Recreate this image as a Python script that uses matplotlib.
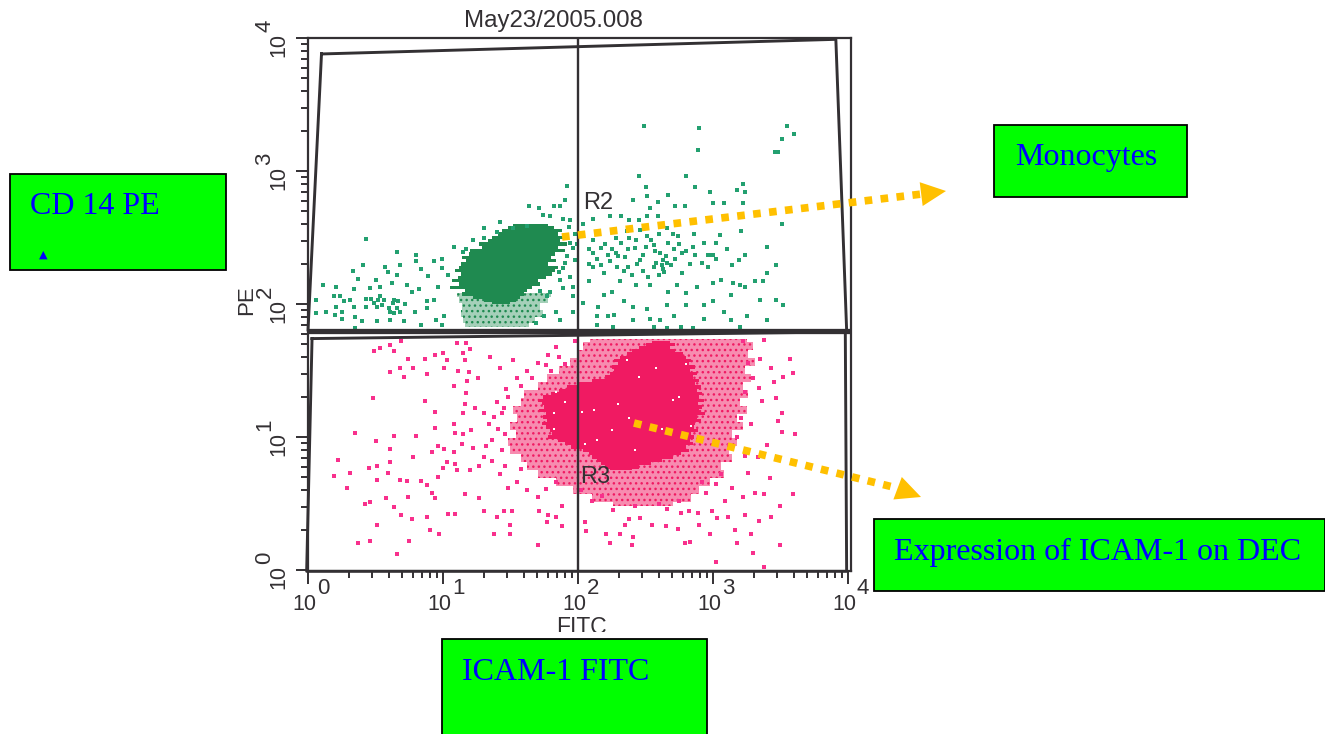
import matplotlib
matplotlib.use("Agg")
import matplotlib.pyplot as plt
import numpy as np
from matplotlib.patches import Polygon, Rectangle
from matplotlib.ticker import LogLocator, NullFormatter

W, H = 1325, 734

# all event values are log10(FITC), log10(PE)
green_core_y = [2.60, 2.575, 2.55, 2.525, 2.50, 2.475, 2.45, 2.425, 2.40, 2.375, 2.35, 2.325,
                2.30, 2.275, 2.25, 2.225, 2.20, 2.175, 2.15, 2.125, 2.10, 2.075, 2.05, 2.025, 2.00]
green_core_l = [1.52, 1.48, 1.44, 1.41, 1.36, 1.33, 1.27, 1.29, 1.20, 1.19, 1.14, 1.17,
                1.13, 1.12, 1.09, 1.13, 1.11, 1.07, 1.12, 1.05, 1.16, 1.14, 1.22, 1.30, 1.36]
green_core_r = [1.78, 1.82, 1.88, 1.85, 1.90, 1.87, 1.92, 1.85, 1.90, 1.83, 1.80, 1.84,
                1.78, 1.85, 1.83, 1.81, 1.76, 1.70, 1.72, 1.66, 1.62, 1.60, 1.57, 1.54, 1.50]

green_halo_y = [2.08, 2.03, 1.98, 1.93, 1.88, 1.83]
green_halo_l = [1.10, 1.12, 1.14, 1.13, 1.15, 1.16]
green_halo_r = [1.80, 1.78, 1.72, 1.74, 1.68, 1.64]

green_points = [
    (2.49, 3.34), (2.90, 3.32), (3.55, 3.34), (3.51, 3.24), (3.60, 3.28), (2.89, 3.16), (3.46, 3.14), (3.48, 3.14),
    (2.45, 2.96), (2.80, 2.96), (3.22, 2.90), (2.87, 2.88), (2.50, 2.88), (2.98, 2.84), (3.18, 2.86), (3.24, 2.84),
    (3.22, 2.76), (1.92, 2.89), (0.43, 2.49), (0.66, 2.39),
    (0.11, 2.14), (0.21, 2.13), (0.06, 2.03), (0.19, 2.06), (0.24, 2.06), (0.27, 2.02), (0.31, 2.03), (0.21, 1.98),
    (0.25, 1.94), (0.06, 1.93), (0.13, 1.94), (0.20, 1.92), (0.25, 1.89), (0.34, 1.98), (0.35, 1.90), (0.40, 1.87),
    (0.43, 2.04), (0.47, 2.04), (0.53, 2.06), (0.56, 2.03), (0.64, 2.03), (0.67, 2.02), (0.61, 1.94), (0.64, 1.93),
    (0.68, 1.94), (0.43, 1.98), (0.51, 1.98), (0.55, 1.99), (0.46, 2.12), (0.34, 2.11), (0.37, 2.19), (0.33, 2.25),
    (0.41, 2.29), (0.50, 2.18), (0.57, 2.28), (0.59, 2.24), (0.68, 2.29), (0.66, 2.22), (0.53, 2.13), (0.62, 2.16),
    (0.73, 2.14), (0.77, 2.09), (0.82, 2.11), (0.80, 2.37), (0.80, 2.32), (0.84, 2.26), (0.89, 2.21), (0.93, 2.32),
    (0.99, 2.34), (0.99, 2.27), (1.04, 2.22), (1.08, 2.43), (1.15, 2.39), (0.96, 2.13), (0.93, 2.03), (0.88, 2.02),
    (0.79, 1.94), (0.88, 1.97), (0.95, 1.88), (1.01, 1.91), (0.99, 1.84), (0.84, 1.84), (0.71, 1.87), (0.61, 1.88),
    (0.51, 1.87), (0.35, 1.82), (0.49, 2.01), (0.52, 2.03), (0.60, 1.97), (0.63, 2.01), (0.66, 1.97), (0.72, 2.00),
    (1.64, 2.74), (1.71, 2.72), (1.82, 2.74), (1.87, 2.74), (1.90, 2.78), (1.74, 2.67), (1.79, 2.66), (1.89, 2.64),
    (1.94, 2.63), (1.42, 2.62), (1.30, 2.57), (1.40, 2.54), (1.52, 2.57), (1.62, 2.59), (1.22, 2.48), (1.30, 2.50),
    (1.17, 2.41), (1.98, 2.53), (1.94, 2.46), (1.92, 2.36), (1.98, 2.33), (1.89, 2.27), (1.87, 2.18), (1.89, 2.12),
    (1.96, 2.13), (1.96, 2.06), (1.77, 2.06), (1.79, 2.09), (1.72, 2.10), (1.84, 1.94), (1.87, 1.88), (1.75, 1.91),
    (1.96, 1.94), (1.69, 1.86), (1.93, 2.58), (1.96, 2.42), (1.90, 2.31), (1.86, 2.24), (1.94, 2.20), (1.99, 2.45),
    (2.04, 2.60), (2.11, 2.64), (2.24, 2.66), (2.32, 2.66), (2.38, 2.63), (2.45, 2.63), (2.51, 2.66), (2.59, 2.66),
    (2.53, 2.72), (2.59, 2.77), (2.72, 2.74), (2.79, 2.74), (3.00, 2.76), (3.08, 2.76), (2.67, 2.82), (2.51, 2.81),
    (2.41, 2.78), (2.11, 2.48), (2.11, 2.38), (2.08, 2.41), (2.17, 2.42), (2.25, 2.41), (2.32, 2.46), (2.37, 2.41),
    (2.43, 2.48), (2.51, 2.51), (2.56, 2.44), (2.61, 2.38), (2.67, 2.46), (2.74, 2.51), (2.71, 2.41), (2.77, 2.38),
    (2.85, 2.43), (2.93, 2.46), (2.87, 2.37), (2.96, 2.37), (3.00, 2.37), (3.05, 2.52), (3.10, 2.41), (3.24, 2.37),
    (3.21, 2.55), (3.51, 2.60), (3.40, 2.43), (3.14, 2.29), (3.19, 2.33), (3.47, 2.29), (3.40, 2.23), (2.96, 2.28),
    (2.77, 2.23), (2.63, 2.33), (2.63, 2.26), (2.56, 2.28), (2.46, 2.33), (2.37, 2.28), (2.29, 2.28), (2.24, 2.32),
    (2.17, 2.29), (2.11, 2.28), (2.19, 2.23), (2.31, 2.17), (2.43, 2.14), (2.53, 2.14), (2.73, 2.14), (2.88, 2.13),
    (3.00, 2.16), (3.06, 2.18), (3.15, 2.16), (3.20, 2.14), (3.31, 2.17), (3.37, 2.17), (3.24, 2.13), (3.35, 2.03),
    (3.47, 2.03), (3.52, 1.99), (3.40, 1.88), (3.25, 1.91), (3.13, 2.07), (3.00, 2.02), (2.93, 1.99), (2.80, 2.08),
    (2.80, 1.99), (2.67, 2.09), (2.66, 1.99), (2.51, 1.96), (2.41, 1.98), (2.34, 2.02), (2.25, 2.09), (2.19, 2.07),
    (2.15, 1.98), (2.04, 2.01), (2.08, 2.17), (2.14, 1.91), (2.22, 1.91), (2.27, 1.92), (2.14, 1.84), (2.26, 1.83),
    (2.41, 1.88), (2.53, 1.89), (2.61, 1.88), (2.71, 1.91), (2.76, 1.83), (2.85, 1.82), (2.93, 1.89), (3.08, 1.94),
    (3.13, 1.88), (3.20, 1.83), (2.56, 1.83), (2.66, 1.82),
    (2.20, 2.45), (2.28, 2.38), (2.35, 2.35), (2.42, 2.42), (2.48, 2.37), (2.54, 2.48), (2.58, 2.31), (2.65, 2.36),
    (2.69, 2.29), (2.72, 2.34), (2.75, 2.45), (2.80, 2.40), (2.28, 2.50), (2.36, 2.55), (2.46, 2.56), (2.60, 2.53),
    (2.66, 2.57), (2.70, 2.53), (2.86, 2.53), (2.40, 2.22), (2.48, 2.25), (2.52, 2.20), (2.60, 2.22), (2.34, 2.25),
    (2.66, 2.31), (2.62, 2.29), (2.64, 2.24), (2.44, 2.30), (2.50, 2.43), (2.57, 2.40), (2.30, 2.36), (2.22, 2.37),
    (2.14, 2.34), (2.08, 2.30), (2.38, 2.50), (2.83, 2.30), (2.92, 2.31), (3.02, 2.34), (2.99, 2.37), (3.02, 2.46),
]

pink_core_y = [1.72, 1.70, 1.675, 1.65, 1.625, 1.60, 1.575, 1.55, 1.525, 1.50, 1.475, 1.45, 1.425,
               1.40, 1.375, 1.35, 1.325, 1.30, 1.275, 1.25, 1.225, 1.20, 1.175, 1.15, 1.125,
               1.10, 1.075, 1.05, 1.025, 1.00, 0.975, 0.95, 0.925, 0.90, 0.875, 0.85, 0.825, 0.80, 0.775, 0.75]
pink_core_l = [2.55, 2.50, 2.45, 2.40, 2.36, 2.31, 2.27, 2.30, 2.25, 2.27, 2.24, 2.20, 2.10,
               2.00, 1.92, 1.86, 1.80, 1.74, 1.70, 1.73, 1.75, 1.71, 1.76, 1.74, 1.77,
               1.73, 1.76, 1.79, 1.81, 1.78, 1.85, 1.90, 1.95, 2.04, 2.08, 2.10, 2.14, 2.17, 2.20, 2.24]
pink_core_r = [2.68, 2.72, 2.68, 2.72, 2.78, 2.80, 2.84, 2.82, 2.87, 2.83, 2.88, 2.85, 2.90,
               2.87, 2.91, 2.88, 2.92, 2.90, 2.93, 2.89, 2.92, 2.90, 2.94, 2.88, 2.91,
               2.87, 2.86, 2.89, 2.84, 2.86, 2.83, 2.85, 2.80, 2.82, 2.76, 2.70, 2.62, 2.54, 2.45, 2.40]

pink_halo_y = [1.74, 1.68, 1.62, 1.56, 1.50, 1.44, 1.38, 1.32, 1.26, 1.20, 1.14, 1.08, 1.02, 0.96,
               0.90, 0.84, 0.78, 0.72, 0.66, 0.60, 0.54, 0.48]
pink_halo_l = [2.09, 2.04, 2.00, 1.94, 1.86, 1.77, 1.70, 1.60, 1.58, 1.52, 1.55, 1.50, 1.54, 1.48,
               1.50, 1.58, 1.62, 1.70, 1.84, 1.96, 2.10, 2.26]
pink_halo_r = [3.25, 3.30, 3.26, 3.31, 3.24, 3.28, 3.22, 3.26, 3.20, 3.25, 3.18, 3.22, 3.14, 3.18,
               3.12, 3.14, 3.06, 3.08, 2.98, 2.90, 2.84, 2.70]

pink_points = [
    (0.49, 1.65), (0.53, 1.67), (0.61, 1.69), (0.69, 1.72), (0.64, 1.65), (0.74, 1.59), (0.68, 1.52), (0.61, 1.49),
    (0.78, 1.52), (0.71, 1.45), (0.88, 1.47), (0.94, 1.62), (0.87, 1.59), (1.00, 1.63), (1.03, 1.58), (1.15, 1.63),
    (1.16, 1.58), (1.20, 1.66), (1.17, 1.71), (1.10, 1.71), (1.01, 1.52), (1.11, 1.50), (1.19, 1.49), (1.26, 1.44),
    (1.08, 1.38), (1.17, 1.33), (0.48, 1.29), (0.87, 1.27), (0.94, 1.19), (1.16, 1.25), (1.15, 1.18), (1.08, 1.10),
    (0.94, 1.07), (1.21, 1.05), (0.35, 1.03), (0.64, 1.01), (0.80, 1.01), (0.50, 0.97), (1.09, 1.03), (1.15, 1.02),
    (1.14, 0.95), (0.61, 0.91), (0.22, 0.83), (0.78, 0.85), (0.92, 0.89), (0.96, 0.93), (1.01, 0.91), (1.08, 0.89),
    (1.03, 0.81), (1.09, 0.80), (0.61, 0.81), (0.51, 0.78), (0.45, 0.77), (0.31, 0.73), (0.19, 0.71), (0.59, 0.73),
    (0.51, 0.68), (0.29, 0.62), (0.68, 0.68), (0.73, 0.67), (0.84, 0.67), (0.88, 0.64), (0.96, 0.70), (1.00, 0.77),
    (1.10, 0.75), (1.20, 0.75), (1.27, 0.78), (0.92, 0.58), (0.94, 0.54), (0.74, 0.55), (0.58, 0.54), (0.46, 0.51),
    (0.42, 0.50), (0.64, 0.47), (0.69, 0.41), (0.77, 0.38), (0.88, 0.40), (1.04, 0.42), (1.09, 0.42), (0.51, 0.34),
    (0.90, 0.30), (0.97, 0.27), (1.38, 0.27), (1.50, 0.27), (1.50, 0.34), (0.46, 0.22), (0.37, 0.20), (0.75, 0.22),
    (0.66, 0.12), (1.70, 0.19), (1.16, 0.57), (1.27, 0.54), (1.30, 0.44), (1.40, 0.40), (1.45, 0.44), (1.51, 0.44),
    (1.71, 0.44), (1.78, 0.41), (1.77, 0.36), (1.88, 0.48), (1.88, 0.33), (1.84, 0.40), (2.05, 0.36), (2.06, 0.29),
    (2.21, 0.27), (2.31, 0.27), (2.41, 0.25), (2.24, 0.20), (2.40, 0.19), (2.35, 0.34), (2.38, 0.38), (2.46, 0.39),
    (2.55, 0.34), (2.65, 0.33), (2.74, 0.31), (2.79, 0.20), (2.83, 0.21), (3.02, 0.06), (3.38, 0.02), (3.30, 0.13),
    (3.18, 0.20), (3.50, 0.19), (3.28, 0.27), (3.16, 0.30), (2.98, 0.27), (3.34, 0.37), (3.43, 0.40), (3.24, 0.41),
    (3.11, 0.40), (3.03, 0.39), (2.90, 0.34), (2.76, 0.43), (2.82, 0.44), (2.89, 0.43), (2.99, 0.44), (3.09, 0.52),
    (3.22, 0.55), (3.31, 0.58), (3.38, 0.57), (3.59, 0.57), (3.50, 0.48), (3.42, 0.69), (3.26, 0.73), (3.33, 0.85),
    (3.40, 0.94), (3.61, 1.02), (3.51, 1.04), (3.48, 1.12), (3.51, 1.18), (3.36, 1.27), (3.47, 1.29), (3.34, 1.37),
    (3.45, 1.41), (3.52, 1.45), (3.59, 1.48), (3.43, 1.52), (3.57, 1.59), (3.35, 1.59), (3.38, 1.73),
    (1.34, 1.10), (1.38, 1.15), (1.41, 1.06), (1.36, 0.98), (1.32, 0.93), (1.30, 0.85), (1.36, 0.82), (1.44, 0.90),
    (1.42, 0.72), (1.48, 0.62), (1.55, 0.66), (1.62, 0.60), (1.70, 0.55), (1.76, 0.61), (1.40, 1.26), (1.45, 1.22),
    (1.47, 1.36), (1.55, 1.44), (1.62, 1.50), (1.70, 1.56), (1.78, 1.62), (1.84, 1.68), (1.98, 1.72), (1.90, 1.55),
    (1.80, 1.50), (1.52, 1.58), (1.42, 1.52), (1.35, 1.60), (1.18, 1.42), (1.24, 1.22), (1.30, 1.18), (1.22, 0.92),
    (2.02, 0.60), (2.10, 0.52), (2.18, 0.56), (2.26, 0.45), (2.75, 0.52), (2.95, 0.58), (3.02, 0.65), (3.14, 0.62),
    # halo, around the dense part
    (1.46, 0.78), (1.58, 0.76), (3.06, 0.72), (1.84, 0.66), (3.24, 1.34), (3.26, 1.56), (3.22, 1.72), (3.18, 1.00),
    (3.21, 1.14), (3.12, 0.94), (1.46, 1.02), (1.44, 1.18), (1.48, 1.30), (1.58, 1.38), (1.66, 1.44), (1.76, 1.54),
    (1.86, 1.60), (2.92, 0.66), (2.60, 0.50), (2.42, 0.48), (2.66, 0.46), (3.30, 1.44), (3.28, 1.10), (3.24, 0.86),
]

pink_white_specks = [
    (2.12, 1.20), (2.03, 1.19), (2.30, 1.25), (2.38, 1.14), (2.45, 1.45), (2.58, 1.52), (2.70, 1.28), (2.75, 1.30),
    (1.90, 1.26), (1.82, 1.18), (2.14, 0.98), (2.05, 0.95), (2.25, 1.05), (2.62, 1.06), (2.80, 1.55), (2.36, 1.58),
    (1.84, 1.34), (1.82, 1.06), (2.42, 0.90), (2.78, 1.00), (2.84, 1.08),
]

r2_gate_x = [0.10, 3.91, 3.99, 0.00]
r2_gate_y = [3.88, 3.99, 1.80, 1.80]
r3_gate_x = [0.03, 3.98, 3.99, -0.01]
r3_gate_y = [1.74, 1.79, -0.01, -0.01]

major_exp = [0, 1, 2, 3, 4]

GREEN = "#1f8a50"
GREEN_DOT = "#23a070"
PINK = "#f01a62"
PINK_DOT = "#f8308c"
INK = "#333033"
ORANGE = "#ffc000"
BOX_GREEN = "#00ff00"


def dec(values):
    return 10.0 ** np.asarray(values, dtype=float)


def scatter_log(ax, points, **kw):
    pts = np.array(points)
    ax.scatter(dec(pts[:, 0]), dec(pts[:, 1]), marker="s", linewidths=0, **kw)


def box(ov, x0, y0, x1, y1, label, tx, ty):
    ov.add_patch(Rectangle((x0, y0), x1 - x0, y1 - y0, fc=BOX_GREEN, ec="black", lw=1.3, zorder=5))
    ov.text(tx, ty, label, color="#0000ff", family="Liberation Serif", fontsize=23,
            ha="left", va="center", zorder=6)


def dotted_arrow(ov, start, stop, tip, half=12):
    ov.plot([start[0], stop[0]], [start[1], stop[1]], color=ORANGE, lw=5.5,
            dashes=(1.0, 1.1), dash_capstyle="butt", zorder=7)
    d = np.array(tip, float) - np.array(stop, float)
    d /= np.hypot(*d)
    n = np.array([-d[1], d[0]])
    base = np.array(tip) - d * 25
    ov.add_patch(Polygon([tip, base + n * half, base - n * half], fc=ORANGE, ec="none", zorder=7))


fig = plt.figure(figsize=(W / 100, H / 100), dpi=100, facecolor="white")
ax = fig.add_axes([308 / W, 1 - 571 / H, 543 / W, 533 / H])
ax.set_xscale("log")
ax.set_yscale("log")
ax.set_xlim(1, 10 ** (543 / 135))
ax.set_ylim(10 ** (-1 / 133), 10 ** 4)

ax.set_xticks(dec(major_exp))
ax.set_yticks(dec(major_exp))
for axis in (ax.xaxis, ax.yaxis):
    axis.set_minor_locator(LogLocator(base=10, subs=np.arange(2, 10) * 1.0, numticks=12))
    axis.set_minor_formatter(NullFormatter())
    axis.set_major_formatter(NullFormatter())
ax.tick_params(which="major", length=9, width=1.4, color=INK)
ax.tick_params(which="minor", length=5, width=1.4, color=INK)
for s in ax.spines.values():
    s.set_linewidth(1.6)
    s.set_color(INK)

# dense regions first, then single events on top
ax.fill_betweenx(dec(green_halo_y), dec(green_halo_l), dec(green_halo_r), facecolor="#1f8a5066",
                 edgecolor=GREEN, hatch="...", lw=0, step="mid", zorder=2)
ax.fill_betweenx(dec(pink_halo_y), dec(pink_halo_l), dec(pink_halo_r), facecolor="#f01a6280",
                 edgecolor=PINK, hatch="...", lw=0, step="mid", zorder=2)
ax.fill_betweenx(dec(green_core_y), dec(green_core_l), dec(green_core_r), color=GREEN, lw=0, step="mid", zorder=3)
ax.fill_betweenx(dec(pink_core_y), dec(pink_core_l), dec(pink_core_r), color=PINK, lw=0, step="mid", zorder=3)
scatter_log(ax, green_points, s=5, color=GREEN_DOT, zorder=4)
scatter_log(ax, pink_points, s=5, color=PINK_DOT, zorder=4)
scatter_log(ax, pink_white_specks, s=3, color="white", zorder=4)

# gates and quadrant lines
ax.plot(dec(r2_gate_x + r2_gate_x[:1]), dec(r2_gate_y + r2_gate_y[:1]), color=INK, lw=2.1, zorder=5, clip_on=False)
ax.plot(dec(r3_gate_x + r3_gate_x[:1]), dec(r3_gate_y + r3_gate_y[:1]), color=INK, lw=2.1, zorder=5, clip_on=False)
ax.plot(dec([0, 3.99]), dec([1.80, 1.80]), color=INK, lw=3.8, zorder=5)
ax.axvline(100, color=INK, lw=1.7, zorder=5)

ov = fig.add_axes([0, 0, 1, 1], facecolor="none")
ov.set_xlim(0, W)
ov.set_ylim(H, 0)
ov.axis("off")

helv = {"family": "Liberation Sans", "color": INK}
for e in major_exp:
    tx = 308 + 135 * e
    ov.text(tx - 4, 604, "10", ha="center", va="center", fontsize=15.5, **helv)
    ov.text(tx + 15, 589, str(e), ha="center", va="center", fontsize=16, **helv)
    ty = 570 - 133 * e
    ov.text(279, ty + 7, "10", ha="center", va="center", rotation=90, fontsize=15.5, **helv)
    ov.text(265, ty - 12, str(e), ha="center", va="center", rotation=90, fontsize=16, **helv)

ov.text(553, 21, "May23/2005.008", ha="center", va="center", fontsize=17.3, **helv)
ov.text(247, 300, "PE", ha="center", va="center", rotation=90, fontsize=16, **helv)
ov.text(581, 627, "FITC", ha="center", va="center", fontsize=16.5, zorder=1, **helv)
ov.add_patch(Rectangle((540, 632), 90, 10, fc="white", ec="none", zorder=2))
ov.text(583, 203, "R2", ha="left", va="center", fontsize=17, zorder=8, **helv)
ov.text(580, 477, "R3", ha="left", va="center", fontsize=17, zorder=8, **helv)

box(ov, 10, 174, 226, 270, "CD 14 PE", 30, 206)
ov.text(43, 255, "\u25b2", color="#0000ff", fontsize=8, ha="center", va="center", zorder=6,
        family="DejaVu Sans")
box(ov, 994, 125, 1187, 197, "Monocytes", 1015, 158)
box(ov, 874, 519, 1325, 591, "Expression of ICAM-1 on DEC", 894, 552)
box(ov, 442, 639, 707, 740, "ICAM-1 FITC", 462, 672)

dotted_arrow(ov, (562, 237), (922, 194), (946, 191))
dotted_arrow(ov, (634, 423), (897, 488), (921, 497))

fig.savefig("out.png", dpi=100)
